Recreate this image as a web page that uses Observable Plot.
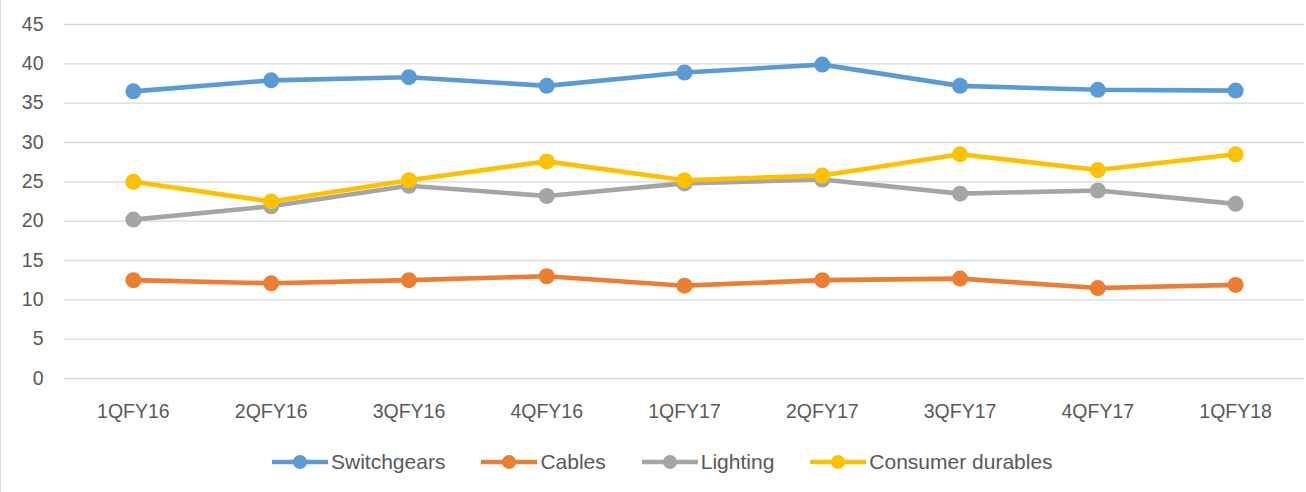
<!DOCTYPE html>
<html><head><meta charset="utf-8">
<script src="https://cdn.jsdelivr.net/npm/d3@7"></script>
<script src="https://cdn.jsdelivr.net/npm/@observablehq/plot@0.6"></script>
<style>
html,body{margin:0;padding:0;background:#fff;}
#wrap{position:relative;width:1306px;height:492px;border-left:1px solid #d9d9d9;box-sizing:border-box;font-family:"Liberation Sans",Arial,sans-serif;}
#chart{position:absolute;left:-1px;top:0;}
#legend{position:absolute;top:449px;left:-1px;width:1306px;display:flex;justify-content:flex-start;gap:36px;padding-left:272px;box-sizing:border-box;}
.item{display:flex;align-items:center;color:#595959;font-size:21px;height:26px;}
.item svg{margin-right:3px;}
</style></head><body>
<div id="wrap"><div id="chart"></div><div id="legend"></div></div>
<script>
const quarters = ["1QFY16","2QFY16","3QFY16","4QFY16","1QFY17","2QFY17","3QFY17","4QFY17","1QFY18"];
const switchgears = [36.5, 37.9, 38.3, 37.2, 38.9, 39.9, 37.2, 36.7, 36.6];
const cables = [12.5, 12.1, 12.5, 13.0, 11.8, 12.5, 12.7, 11.5, 11.9];
const lighting = [20.2, 21.9, 24.5, 23.2, 24.8, 25.3, 23.5, 23.9, 22.2];
const consumerDurables = [25.0, 22.5, 25.2, 27.6, 25.2, 25.8, 28.5, 26.5, 28.5];
const seriesNames = ["Switchgears","Cables","Lighting","Consumer durables"];
const seriesColors = ["#5B9BD5","#ED7D31","#A5A5A5","#FFC000"];
const yTicks = [0,5,10,15,20,25,30,35,40,45];

const seriesValues = [switchgears, cables, lighting, consumerDurables];
const marks = [Plot.ruleY(yTicks, {stroke:"#d9d9d9", strokeWidth:1.3})];
seriesValues.forEach((vals, i) => {
  const rows = vals.map((v, j) => ({series: seriesNames[i], quarter: quarters[j], value: v}));
  marks.push(Plot.line(rows, {x:"quarter", y:"value", stroke:"series", strokeWidth:4.6, strokeLinejoin:"round"}));
  marks.push(Plot.dot(rows, {x:"quarter", y:"value", fill:"series", r:8}));
});

const chart = Plot.plot({
  width:1306, height:440,
  marginLeft:64, marginRight:2, marginTop:24, marginBottom:62,
  x:{type:"point", domain:quarters, padding:0.5, round:false, label:null, tickSize:0, tickPadding:26},
  y:{domain:[0,45], ticks:yTicks, label:null, tickSize:0, tickPadding:21},
  color:{domain:seriesNames, range:seriesColors},
  style:{fontSize:"19.5px", fontFamily:"'Liberation Sans', Arial, sans-serif", color:"#595959", background:"transparent"},
  marks
});
document.getElementById("chart").appendChild(chart);

const legend = document.getElementById("legend");
seriesNames.forEach((name, i) => {
  const item = document.createElement("div");
  item.className = "item";
  item.innerHTML = `<svg width="56" height="20"><line x1="0" y1="10" x2="56" y2="10" stroke="${seriesColors[i]}" stroke-width="4.6" stroke-linecap="round"/><circle cx="28" cy="10" r="7" fill="${seriesColors[i]}"/></svg><span>${name}</span>`;
  legend.appendChild(item);
});
</script>
</body></html>
